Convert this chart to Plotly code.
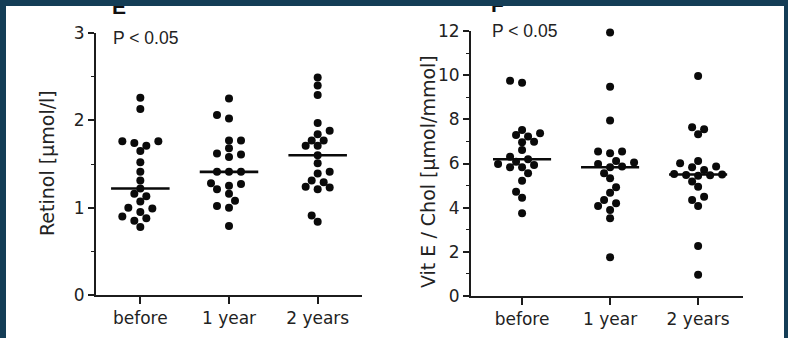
import numpy as np
import plotly.graph_objects as go

# ---- data -------------------------------------------------------------
categories = ["before", "1 year", "2 years"]

retinol_before = [2.26, 2.13, 1.76, 1.74, 1.76, 1.71, 1.65, 1.52, 1.41, 1.31, 1.22,
                  1.13, 1.16, 1.07, 0.99, 0.95, 1.00, 0.90, 0.88, 0.85, 0.78]
retinol_1year = [2.25, 2.02, 2.06, 1.77, 1.77, 1.68, 1.62, 1.58, 1.61, 1.41, 1.41,
                 1.41, 1.28, 1.25, 1.27, 1.21, 1.16, 1.08, 1.02, 1.00, 0.79]
retinol_2years = [2.49, 2.40, 2.29, 1.97, 1.88, 1.84, 1.77, 1.77, 1.71, 1.71, 1.60,
                  1.51, 1.39, 1.41, 1.29, 1.31, 1.23, 1.21, 1.24, 0.91, 0.84]

vite_before = [9.66, 9.75, 7.52, 7.29, 7.22, 7.37, 6.99, 6.96, 6.61, 6.31, 6.19,
               6.08, 5.98, 5.93, 5.83, 5.83, 5.56, 5.22, 4.72, 4.45, 3.75]
vite_1year = [11.93, 9.48, 7.95, 6.46, 6.54, 6.54, 5.83, 6.04, 5.98, 6.11, 5.86,
              5.56, 5.33, 4.92, 4.68, 4.35, 4.20, 4.08, 3.90, 3.52, 1.75]
vite_2years = [9.96, 7.64, 7.55, 7.32, 6.11, 6.01, 5.86, 5.83, 5.71, 5.52, 5.50,
               5.48, 5.47, 5.45, 5.18, 4.95, 4.50, 4.35, 4.08, 2.26, 0.96]

retinol_ticks = [0, 1, 2, 3]
vite_ticks = [0, 2, 4, 6, 8, 10, 12]

# ---- page geometry (px) -----------------------------------------------
W, H = 788, 338
NAVY = "#143d56"
INK = "#1c1c1c"


def px_x(x):
    return x / W


def px_y(y):
    return (H - y) / H


# panel A: retinol
A_X = (96, 362)
A_Y = (295, 33)
A_XRANGE = [-0.5, 2.5]
A_YRANGE = [0, 3]
# panel B: vitamin E / cholesterol
B_X = (471, 743)
B_Y = (296, 31)
B_XRANGE = [-0.58, 2.51]
B_YRANGE = [0, 12]


def swarm_offsets(values, ppu_y, ppu_x, dot=7.6, step=6.0, row_gap=11.0):
    """Beeswarm: place dots on a grid of horizontal slots without overlap."""
    vals = np.asarray(values, dtype=float)
    order = np.argsort(vals)
    placed = []
    offs = np.zeros(len(vals))

    def collide(dx, dy):
        return np.hypot(dx, dy) < dot or (abs(dy) < 4.0 and abs(dx) < row_gap)

    for i in order:
        y = vals[i] * ppu_y
        left = sum(1 for px, _ in placed if px < 0)
        right = sum(1 for px, _ in placed if px > 0)
        chosen = None
        for k in range(0, 40):
            if k == 0:
                cands = [0.0]
            elif left <= right:
                cands = [-k * step, k * step]
            else:
                cands = [k * step, -k * step]
            for cx in cands:
                if all(not collide(cx - px, y - py) for px, py in placed):
                    chosen = cx
                    break
            if chosen is not None:
                break
        placed.append((chosen, y))
        offs[i] = chosen / ppu_x
    return offs


fig = go.Figure()


def add_panel(groups, xa, ya, xpix, ypix, xrange, yrange):
    ppu_x = (xpix[1] - xpix[0]) / (xrange[1] - xrange[0])
    ppu_y = (ypix[0] - ypix[1]) / (yrange[1] - yrange[0])
    for ci, vals in enumerate(groups):
        offs = swarm_offsets(vals, ppu_y, ppu_x)
        fig.add_trace(go.Scatter(
            x=ci + offs, y=vals, mode="markers", xaxis=xa, yaxis=ya,
            marker=dict(size=8, color="#0a0a0a", line=dict(width=0)),
            cliponaxis=False, hoverinfo="y"))
        med = float(np.median(vals))
        fig.add_trace(go.Scatter(
            x=[ci - 0.33, ci + 0.33], y=[med, med], mode="lines",
            xaxis=xa, yaxis=ya, line=dict(color="#0a0a0a", width=2.6),
            cliponaxis=False, hoverinfo="skip"))


add_panel([retinol_before, retinol_1year, retinol_2years], "x", "y",
          A_X, A_Y, A_XRANGE, A_YRANGE)
add_panel([vite_before, vite_1year, vite_2years], "x2", "y2",
          B_X, B_Y, B_XRANGE, B_YRANGE)

tick_font = dict(family="DejaVu Sans", size=17, color="#222222")

xaxis_common = dict(
    showline=True, linecolor=INK, linewidth=1.8, mirror=False,
    ticks="outside", ticklen=7, tickwidth=1.5, tickcolor=INK,
    tickvals=[0, 1, 2], ticktext=categories, tickfont=tick_font,
    showgrid=False, zeroline=False, fixedrange=True, automargin=False)
yaxis_common = dict(
    showline=True, linecolor=INK, linewidth=1.8, mirror=False,
    ticks="outside", ticklen=6, tickwidth=1.5, tickcolor=INK,
    tickfont=tick_font, showgrid=False, zeroline=False,
    fixedrange=True, automargin=False)

fig.update_layout(
    width=W, height=H,
    margin=dict(l=0, r=0, t=0, b=0, pad=0),
    paper_bgcolor="white", plot_bgcolor="white",
    showlegend=False,
    xaxis=dict(xaxis_common, domain=[px_x(A_X[0]), px_x(A_X[1])],
               range=A_XRANGE, anchor="y"),
    yaxis=dict(yaxis_common, domain=[px_y(A_Y[0]), px_y(A_Y[1])],
               range=A_YRANGE, tickvals=retinol_ticks, anchor="x",
               minor=dict(ticks="outside", ticklen=3, tickwidth=1.2,
                          tickcolor=INK, dtick=0.5, tick0=0)),
    xaxis2=dict(xaxis_common, domain=[px_x(B_X[0]), px_x(B_X[1])],
                range=B_XRANGE, anchor="y2"),
    yaxis2=dict(yaxis_common, domain=[px_y(B_Y[0]), px_y(B_Y[1])],
                range=B_YRANGE, tickvals=vite_ticks, anchor="x2",
                minor=dict(ticks="outside", ticklen=3, tickwidth=1.2,
                           tickcolor=INK, dtick=1, tick0=0)),
)

title_font = dict(family="DejaVu Sans", size=19, color="#222222")
p_font = dict(family="Liberation Sans, Arial", size=17.5, color="#222222")
letter_font = dict(family="Liberation Sans, Arial", size=21, color="#111111")

annotations = [
    dict(text="Retinol [µmol/l]", x=px_x(47), y=px_y(163), textangle=-90,
         font=title_font),
    dict(text="Vit E / Chol [µmol/mmol]", x=px_x(428), y=px_y(171),
         textangle=-90, font=title_font),
    dict(text="P < 0.05", x=px_x(111.5), y=px_y(38.1), xanchor="left",
         font=p_font),
    dict(text="P < 0.05", x=px_x(491), y=px_y(31.4), xanchor="left",
         font=p_font),
    dict(text="<b>E</b>", x=px_x(111), y=px_y(6.7), xanchor="left",
         font=letter_font),
    dict(text="<b>F</b>", x=px_x(490), y=px_y(5.0), xanchor="left",
         font=letter_font),
    # dark frame strip along the top edge, drawn over the panel letters
    dict(text=" ", x=0, y=1, xanchor="left", yanchor="top", width=W,
         height=6, bgcolor=NAVY, borderpad=0, borderwidth=0,
         font=dict(size=4)),
]
for a in annotations:
    a.setdefault("xref", "paper")
    a.setdefault("yref", "paper")
    a.setdefault("xanchor", "center")
    a.setdefault("yanchor", "middle")
    a.setdefault("showarrow", False)
    a.setdefault("borderpad", 0)
fig.update_layout(annotations=annotations)

# dark frame strips on the left and right edges
fig.update_layout(shapes=[
    dict(type="rect", xref="paper", yref="paper", x0=0, x1=px_x(6),
         y0=0, y1=1, fillcolor=NAVY, line=dict(width=0), layer="above"),
    dict(type="rect", xref="paper", yref="paper", x0=px_x(784), x1=1,
         y0=0, y1=1, fillcolor=NAVY, line=dict(width=0), layer="above"),
])

fig.write_html("out.html")
